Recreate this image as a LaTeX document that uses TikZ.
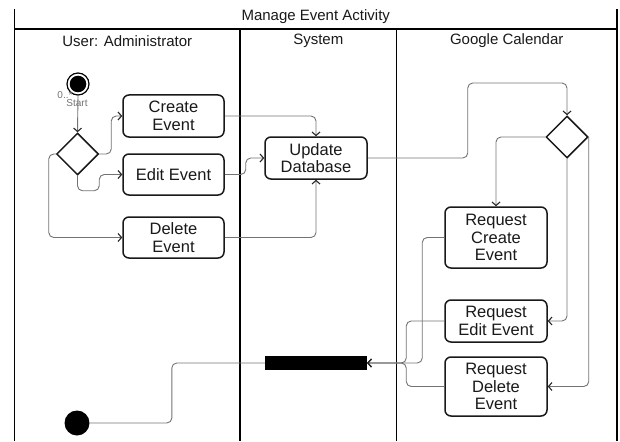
\documentclass[tikz,border=0pt]{standalone}
\usepackage{fontspec}
\setmainfont{Liberation Sans}
\usetikzlibrary{arrows.meta,shapes.geometric}
\begin{document}
\begin{tikzpicture}[x=1pt,y=-1pt,
  lane/.style={line width=1.3pt,black},
  actbox/.style={draw=black!90,line width=1.5pt,rounded corners=6pt,inner sep=0pt,
    align=center,font=\fontsize{16.5}{17.5}\selectfont,text=black!90},
  decision/.style={draw=black!90,line width=1.5pt,diamond,aspect=1,minimum width=42pt,
    minimum height=42pt,inner sep=0pt},
  flow/.style={draw=black!55,line width=0.9pt,rounded corners=5pt,
    -{Straight Barb[length=3.5pt,width=8pt,line width=1.1pt,color=black!85]}},
  plainflow/.style={draw=black!55,line width=0.9pt,rounded corners=5pt},
  header/.style={font=\fontsize{15}{17}\selectfont,text=black!90},
  small/.style={font=\fontsize{10}{11}\selectfont,text=black!55,inner sep=0pt}
]
\useasboundingbox (0,0) rectangle (620,441);
% frame and lanes
\draw[lane] (14.5,9) -- (14.5,441);
\draw[lane] (617,9) -- (617,441);
\draw[lane] (14.5,29) -- (617,29);
\draw[lane] (240,29) -- (240,441);
\draw[lane] (396.5,29) -- (396.5,441);
\node[header] (title) at (315.75,17) {Manage Event Activity};
\node[header] (h1) at (127.25,41) {User: Administrator};
\node[header] (h2) at (318.25,41) {System};
\node[header] (h3) at (506.75,41) {Google Calendar};

% nodes
\node[circle,draw=black,line width=1.2pt,minimum size=22pt,inner sep=0pt,
  path picture={\fill[black] (path picture bounding box.center) circle (8.3pt);}] (start) at (78,84) {};
\node[small] (mult) at (65,95) {0..*};
\node[small] (startlbl) at (77,103.5) {Start};
\node[decision] (ld) at (77.5,154) {};
\node[actbox,minimum width=101pt,minimum height=42pt] (create) at (173.5,116) {Create\\Event};
\node[actbox,minimum width=101pt,minimum height=41pt] (edit) at (173.5,174.5) {Edit Event};
\node[actbox,minimum width=101pt,minimum height=41pt] (delete) at (173.5,237.5) {Delete\\Event};
\node[actbox,minimum width=102pt,minimum height=42pt] (update) at (316,158) {Update\\Database};
\node[decision] (rd) at (567,137) {};
\node[actbox,minimum width=102pt,minimum height=61pt] (rcreate) at (496,237.5) {Request\\Create\\Event};
\node[actbox,minimum width=102pt,minimum height=42pt] (redit) at (496,321) {Request\\Edit Event};
\node[actbox,minimum width=102pt,minimum height=59pt] (rdelete) at (496,386.5) {Request\\Delete\\Event};
\node[fill=black,minimum width=102pt,minimum height=14pt,inner sep=0pt] (bar) at (316,363) {};
\node[circle,fill=black,minimum size=25pt,inner sep=0pt] (end) at (77,423) {};

% connectors
\draw[flow] (start.south) -- (ld.north);
\draw[flow] (ld.east) -- ++(12,0) |- (create.west);
\draw[flow] (ld.south) -- ++(0,15) -| ([xshift=-23pt]edit.west) -- (edit.west);
\draw[flow] (ld.west) -- ++(-7,0) |- (delete.west);
\draw[flow] (create.east) -| (update.north);
\draw[flow] (edit.east) -- ++(21,0) |- (update.west);
\draw[flow] (delete.east) -| (update.south);
\draw[flow] (update.east) -| ++(100,-75) -| (rd.north);
\draw[flow] (rd.west) -| (rcreate.north);
\draw[flow] (rd.south) |- (redit.east);
\draw[flow] (rd.east) |- (rdelete.east);
\draw[flow] (rcreate.west) -- ++(-22,0) |- (bar.east);
\draw[flow] (redit.west) -- ++(-38,0) |- (bar.east);
\draw[flow] (rdelete.west) -- ++(-38,0) |- (bar.east);
\draw[plainflow] (bar.west) -- ++(-93,0) |- (end.east);
\end{tikzpicture}
\end{document}
